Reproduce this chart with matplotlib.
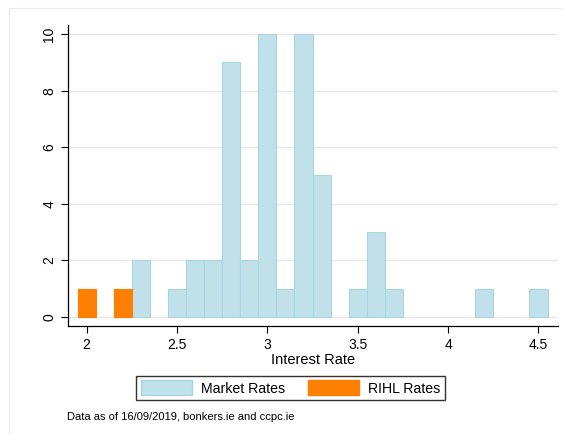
import matplotlib
matplotlib.use("Agg")
import matplotlib.pyplot as plt
from matplotlib.patches import Patch, Rectangle

plt.rcParams["font.family"] = ["Liberation Sans", "DejaVu Sans"]

# histogram bins (bin centres, width 0.1) and counts
market_rates = [2.3, 2.5, 2.6, 2.7, 2.8, 2.9, 3.0, 3.1, 3.2, 3.3, 3.5, 3.6, 3.7, 4.2, 4.5]
market_counts = [2, 1, 2, 2, 9, 2, 10, 1, 10, 5, 1, 3, 1, 1, 1]
rihl_rates = [2.0, 2.2]
rihl_counts = [1, 1]
x_ticks = [2, 2.5, 3, 3.5, 4, 4.5]
x_ticklabels = ["2", "2.5", "3", "3.5", "4", "4.5"]
y_ticks = [0, 2, 4, 6, 8, 10]

blue = "#c1e1ea"
blue_edge = "#a9d5e3"
orange = "#ff7f00"

fig = plt.figure(figsize=(5.63, 4.34), dpi=100)
fig.patches.append(Rectangle((9 / 563, -0.01), 1.0, 1 - 8 / 434 + 0.01,
                             transform=fig.transFigure, fill=False,
                             edgecolor="#ececec", linewidth=1.0))
ax = fig.add_axes([68 / 563, 108 / 434, 490 / 563, 301 / 434])

ax.bar(market_rates, market_counts, width=0.1, color=blue,
       edgecolor=blue_edge, linewidth=0.8, zorder=3)
ax.bar(rihl_rates, rihl_counts, width=0.1, color=orange,
       edgecolor=orange, linewidth=0.8, zorder=3)

ax.set_xlim(1.897, 4.608)
ax.set_ylim(-0.32, 10.32)
ax.set_xticks(x_ticks)
ax.set_xticklabels(x_ticklabels, fontsize=10)
ax.set_yticks(y_ticks)
ax.set_yticklabels([str(v) for v in y_ticks], fontsize=10, rotation=90, va="center")
ax.tick_params(direction="out", length=5, width=0.8, colors="black")
ax.grid(axis="y", color="#e8e8e8", linewidth=1.0, zorder=0)
ax.set_axisbelow(True)
for s in ["top", "right"]:
    ax.spines[s].set_visible(False)
ax.spines["left"].set_linewidth(0.9)
ax.spines["bottom"].set_linewidth(0.9)
ax.set_xlabel("Interest Rate", fontsize=10.5, labelpad=1)

handles = [Patch(facecolor=blue, edgecolor=blue_edge, label="Market Rates"),
           Patch(facecolor=orange, edgecolor=orange, label="RIHL Rates")]
leg = fig.legend(handles=handles, ncol=2, loc="center",
                 bbox_to_anchor=(290.5 / 563, 1 - 388 / 434), fontsize=10.2,
                 frameon=True, fancybox=False, edgecolor="black",
                 handlelength=3.6, handleheight=1.2, columnspacing=1.6,
                 borderpad=0.35, handletextpad=0.65)
leg.get_frame().set_linewidth(1.0)

fig.text(67 / 563, 1 - 417 / 434, "Data as of 16/09/2019, bonkers.ie and ccpc.ie",
         fontsize=8, va="center", ha="left")

fig.savefig("out.png", dpi=100)
